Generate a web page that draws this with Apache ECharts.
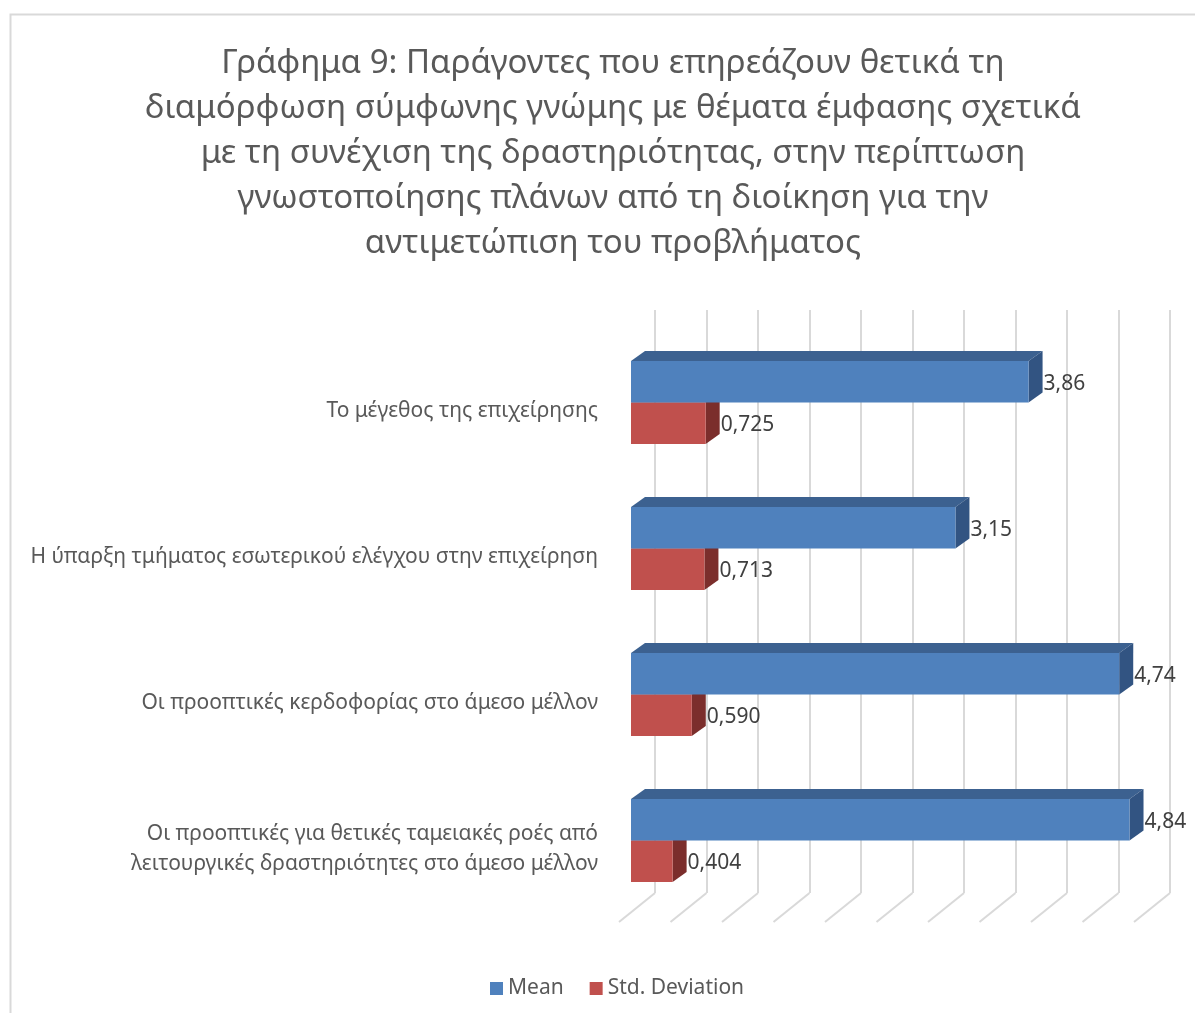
<!DOCTYPE html>
<html>
<head>
<meta charset="utf-8">
<script src="https://cdn.jsdelivr.net/npm/echarts@6/dist/echarts.min.js"></script>
<style>
  html, body { margin: 0; padding: 0; background: #fff; }
  #chart { width: 1195px; height: 1013px; }
</style>
</head>
<body>
<div id="chart"></div>
<script>
// Factors, from top to bottom
const categories = [
  'Το μέγεθος της επιχείρησης',
  'Η ύπαρξη τμήματος εσωτερικού ελέγχου στην επιχείρηση',
  'Οι προοπτικές κερδοφορίας στο άμεσο μέλλον',
  'Οι προοπτικές για θετικές ταμειακές ροές από\nλειτουργικές δραστηριότητες στο άμεσο μέλλον'
];
const meanValues = [3.86, 3.15, 4.74, 4.84];
const stdValues = [0.725, 0.713, 0.590, 0.404];
const meanDecimals = 2;
const stdDecimals = 3;
// Value-axis ticks (gridlines on the back wall and the floor)
const axisTicks = [0, 0.5, 1, 1.5, 2, 2.5, 3, 3.5, 4, 4.5, 5];

const titleLines = [
  'Γράφημα 9: Παράγοντες που επηρεάζουν θετικά τη',
  'διαμόρφωση σύμφωνης γνώμης με θέματα έμφασης σχετικά',
  'με τη συνέχιση της δραστηριότητας, στην περίπτωση',
  'γνωστοποίησης πλάνων από τη διοίκηση για την',
  'αντιμετώπιση του προβλήματος'
];

const FONT = '"Noto Sans", "Open Sans", sans-serif';
const DEPTH_X = 14, DEPTH_Y = -10;       // bar extrusion
const FLOOR_DX = -36, FLOOR_DY = 29;     // floor depth

function fmt(v, d) { return v.toFixed(d).replace('.', ','); }

// Draws one extruded bar: front face, top face, right side face and value label
function makeBarRenderer(colors, upper, decimals) {
  return function (params, api) {
    const v = api.value(0);
    const c = api.value(1);
    const start = api.coord([0, c]);
    const end = api.coord([v, c]);
    const band = api.size([0, 1])[1];
    const h = band * 0.285;
    const y0 = upper ? start[1] - h : start[1];
    const x0 = start[0], x1 = end[0];
    return {
      type: 'group',
      children: [
        { type: 'polygon', shape: { points: [[x0, y0], [x0 + DEPTH_X, y0 + DEPTH_Y], [x1 + DEPTH_X, y0 + DEPTH_Y], [x1, y0]] },
          style: { fill: colors.top } },
        { type: 'polygon', shape: { points: [[x1, y0], [x1 + DEPTH_X, y0 + DEPTH_Y], [x1 + DEPTH_X, y0 + h + DEPTH_Y], [x1, y0 + h]] },
          style: { fill: colors.side } },
        { type: 'rect', shape: { x: x0, y: y0, width: x1 - x0, height: h },
          style: { fill: colors.front } },
        { type: 'text', style: { text: fmt(v, decimals), x: x1 + DEPTH_X + 1, y: y0 + h / 2 + 2,
          verticalAlign: 'middle', align: 'left', fill: '#404040', font: '21px ' + FONT } }
      ]
    };
  };
}

const chart = echarts.init(document.getElementById('chart'));
chart.setOption({
  backgroundColor: '#fff',
  animation: false,
  title: {
    text: titleLines.join('\n'),
    left: 608, top: 36, textAlign: 'center',
    textStyle: { fontFamily: FONT, fontSize: 33, fontWeight: 'normal', color: '#595959', lineHeight: 45 }
  },
  legend: {
    data: ['Mean', 'Std. Deviation'],
    left: 485, top: 973,
    icon: 'rect', itemWidth: 13, itemHeight: 13, itemGap: 26,
    textStyle: { fontFamily: FONT, fontSize: 21, color: '#595959' }
  },
  graphic: [
    { type: 'rect', shape: { x: 10.5, y: 14.5, width: 1200, height: 1010 },
      style: { fill: 'none', stroke: '#d9d9d9', lineWidth: 2 }, silent: true, z: -1 }
  ],
  grid: [
    // back wall
    { left: 655, top: 310, width: 515, height: 583 },
    // front plane holding the bars
    { left: 631, top: 329.5, width: 515, height: 584 },
    // category labels, set slightly lower on the floor plane
    { left: 631, top: 338.5, width: 515, height: 584 }
  ],
  xAxis: [
    { gridIndex: 0, type: 'value', min: 0, max: 5, interval: 0.5,
      axisLine: { show: false }, axisTick: { show: false }, axisLabel: { show: false },
      splitLine: { show: true, lineStyle: { color: '#d9d9d9', width: 2 } } },
    { gridIndex: 1, type: 'value', min: 0, max: 5, interval: 0.5, show: false },
    { gridIndex: 2, type: 'value', min: 0, max: 5, interval: 0.5, show: false }
  ],
  yAxis: [
    { gridIndex: 0, type: 'value', min: 0, max: 1, show: false },
    { gridIndex: 1, type: 'category', data: categories, inverse: true, show: false },
    { gridIndex: 2, type: 'category', data: categories, inverse: true,
      axisLine: { show: false }, axisTick: { show: false }, splitLine: { show: false },
      axisLabel: { margin: 33, fontFamily: FONT, fontSize: 21, color: '#595959', lineHeight: 30, align: 'right' } }
  ],
  series: [
    {
      name: 'floor', type: 'custom', xAxisIndex: 0, yAxisIndex: 0, silent: true,
      data: axisTicks.map(t => [t, 0]),
      renderItem: function (params, api) {
        const p = api.coord([api.value(0), api.value(1)]);
        return { type: 'line', shape: { x1: p[0], y1: p[1], x2: p[0] + FLOOR_DX, y2: p[1] + FLOOR_DY },
          style: { stroke: '#d9d9d9', lineWidth: 2 } };
      },
      z: 1
    },
    {
      name: 'Mean', type: 'custom', xAxisIndex: 1, yAxisIndex: 1,
      itemStyle: { color: '#4f81bd' },
      data: meanValues.map((v, i) => [v, i]),
      renderItem: makeBarRenderer({ front: '#4f81bd', top: '#3c6190', side: '#325482' }, true, meanDecimals),
      z: 3
    },
    {
      name: 'Std. Deviation', type: 'custom', xAxisIndex: 1, yAxisIndex: 1,
      itemStyle: { color: '#c0504d' },
      data: stdValues.map((v, i) => [v, i]),
      renderItem: makeBarRenderer({ front: '#c0504d', top: '#953d3a', side: '#7b2e2c' }, false, stdDecimals),
      z: 2
    }
  ]
});
</script>
</body>
</html>
